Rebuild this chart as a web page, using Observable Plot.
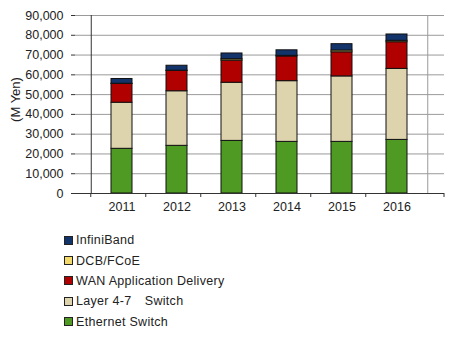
<!DOCTYPE html>
<html>
<head>
<meta charset="utf-8">
<script src="https://cdn.jsdelivr.net/npm/d3@7"></script>
<script src="https://cdn.jsdelivr.net/npm/@observablehq/plot@0.6"></script>
<style>
  body { margin: 0; background: #fff; font-family: "Liberation Sans", Arial, sans-serif; }
  #chart { position: relative; width: 460px; height: 337px; }
  #legend { position: absolute; left: 64px; top: 230px; font-size: 12.5px; letter-spacing: 0.3px; color: #222; }
  .item { height: 20.4px; line-height: 16px; display: flex; align-items: center; }
  .sw { width: 7px; height: 7px; border: 1px solid #222; margin-right: 3px; }
</style>
</head>
<body>
<div id="chart"></div>
<script>
const years = ["2011", "2012", "2013", "2014", "2015", "2016"];
const seriesNames = ["Ethernet Switch", "Layer 4-7\u3000Switch", "WAN Application Delivery", "DCB/FCoE", "InfiniBand"];
const ethernet = [22600, 24100, 26600, 26100, 26100, 27100];
const layer47 = [23300, 27600, 29400, 30700, 33100, 35900];
const wan = [9500, 10300, 11200, 12500, 12200, 13500];
const dcb = [100, 100, 700, 300, 900, 700];
const infiniband = [2400, 2500, 2900, 2800, 3200, 3200];
const colors = ["#4f9a22", "#ddd3ac", "#b00000", "#f2d96a", "#13336b"];
const yTicks = [0, 10000, 20000, 30000, 40000, 50000, 60000, 70000, 80000, 90000];

const seriesValues = [ethernet, layer47, wan, dcb, infiniband];
const data = [];
seriesNames.forEach((s, i) => years.forEach((y, j) => data.push({year: y, series: s, value: seriesValues[i][j]})));

const W = 460, H = 225, mL = 75, mR = 16, mT = 15, mB = 32;
const step = (W - mL - mR) / years.length;

const plot = Plot.plot({
  width: W, height: H,
  marginLeft: mL, marginRight: mR, marginTop: mT, marginBottom: mB,
  style: {fontFamily: "Liberation Sans, Arial, sans-serif", fontSize: "12.5px", color: "#222", background: "#fff"},
  x: {domain: years, padding: 0.61, align: 0.5, label: null},
  y: {domain: [0, 90000], label: null},
  color: {domain: seriesNames, range: colors},
  marks: [
    Plot.ruleY(yTicks.slice(1), {stroke: "#9a9a9a", strokeWidth: 1}),
    Plot.ruleX([years[years.length - 1]], {x: d => d, dx: step / 2, y1: 0, y2: 90000, stroke: "#9a9a9a"}),
    Plot.barY(data, Plot.stackY({x: "year", y: "value", fill: "series", order: seriesNames, stroke: "#111", strokeWidth: 1})),
    Plot.ruleY([0], {stroke: "#333"}),
    Plot.ruleX([years[0]], {x: d => d, dx: -step / 2, y1: 0, y2: 90000, stroke: "#333"}),
    Plot.axisY({ticks: yTicks, tickFormat: d3.format(","), tickSize: 4, tickPadding: 8, stroke: "#333", fontSize: 12.5}),
    Plot.axisX({tickSize: 0, tickPadding: 9, fontSize: 12.5}),
    Plot.text(["(M Yen)"], {frameAnchor: "left", textAnchor: "middle", dx: -60, dy: -5, rotate: -90, fontSize: 13, fill: "#222"})
  ]
});
document.getElementById("chart").appendChild(plot);

// x-axis tick marks at category boundaries
{
  const svg = d3.select(plot);
  const x = plot.scale("x");
  const y0 = plot.scale("y").apply(0);
  const bounds = years.map(yv => x.apply(yv) - (step - x.bandwidth) / 2).concat([W - mR]);
  svg.append("g").selectAll("line").data(bounds).join("line")
    .attr("x1", d => d).attr("x2", d => d).attr("y1", y0).attr("y2", y0 + 4)
    .attr("stroke", "#333");
}

const legend = document.createElement("div");
legend.id = "legend";
for (let i = seriesNames.length - 1; i >= 0; i--) {
  const it = document.createElement("div");
  it.className = "item";
  const sw = document.createElement("span");
  sw.className = "sw";
  sw.style.background = colors[i];
  it.appendChild(sw);
  it.appendChild(document.createTextNode(seriesNames[i]));
  legend.appendChild(it);
}
document.getElementById("chart").appendChild(legend);
</script>
</body>
</html>
